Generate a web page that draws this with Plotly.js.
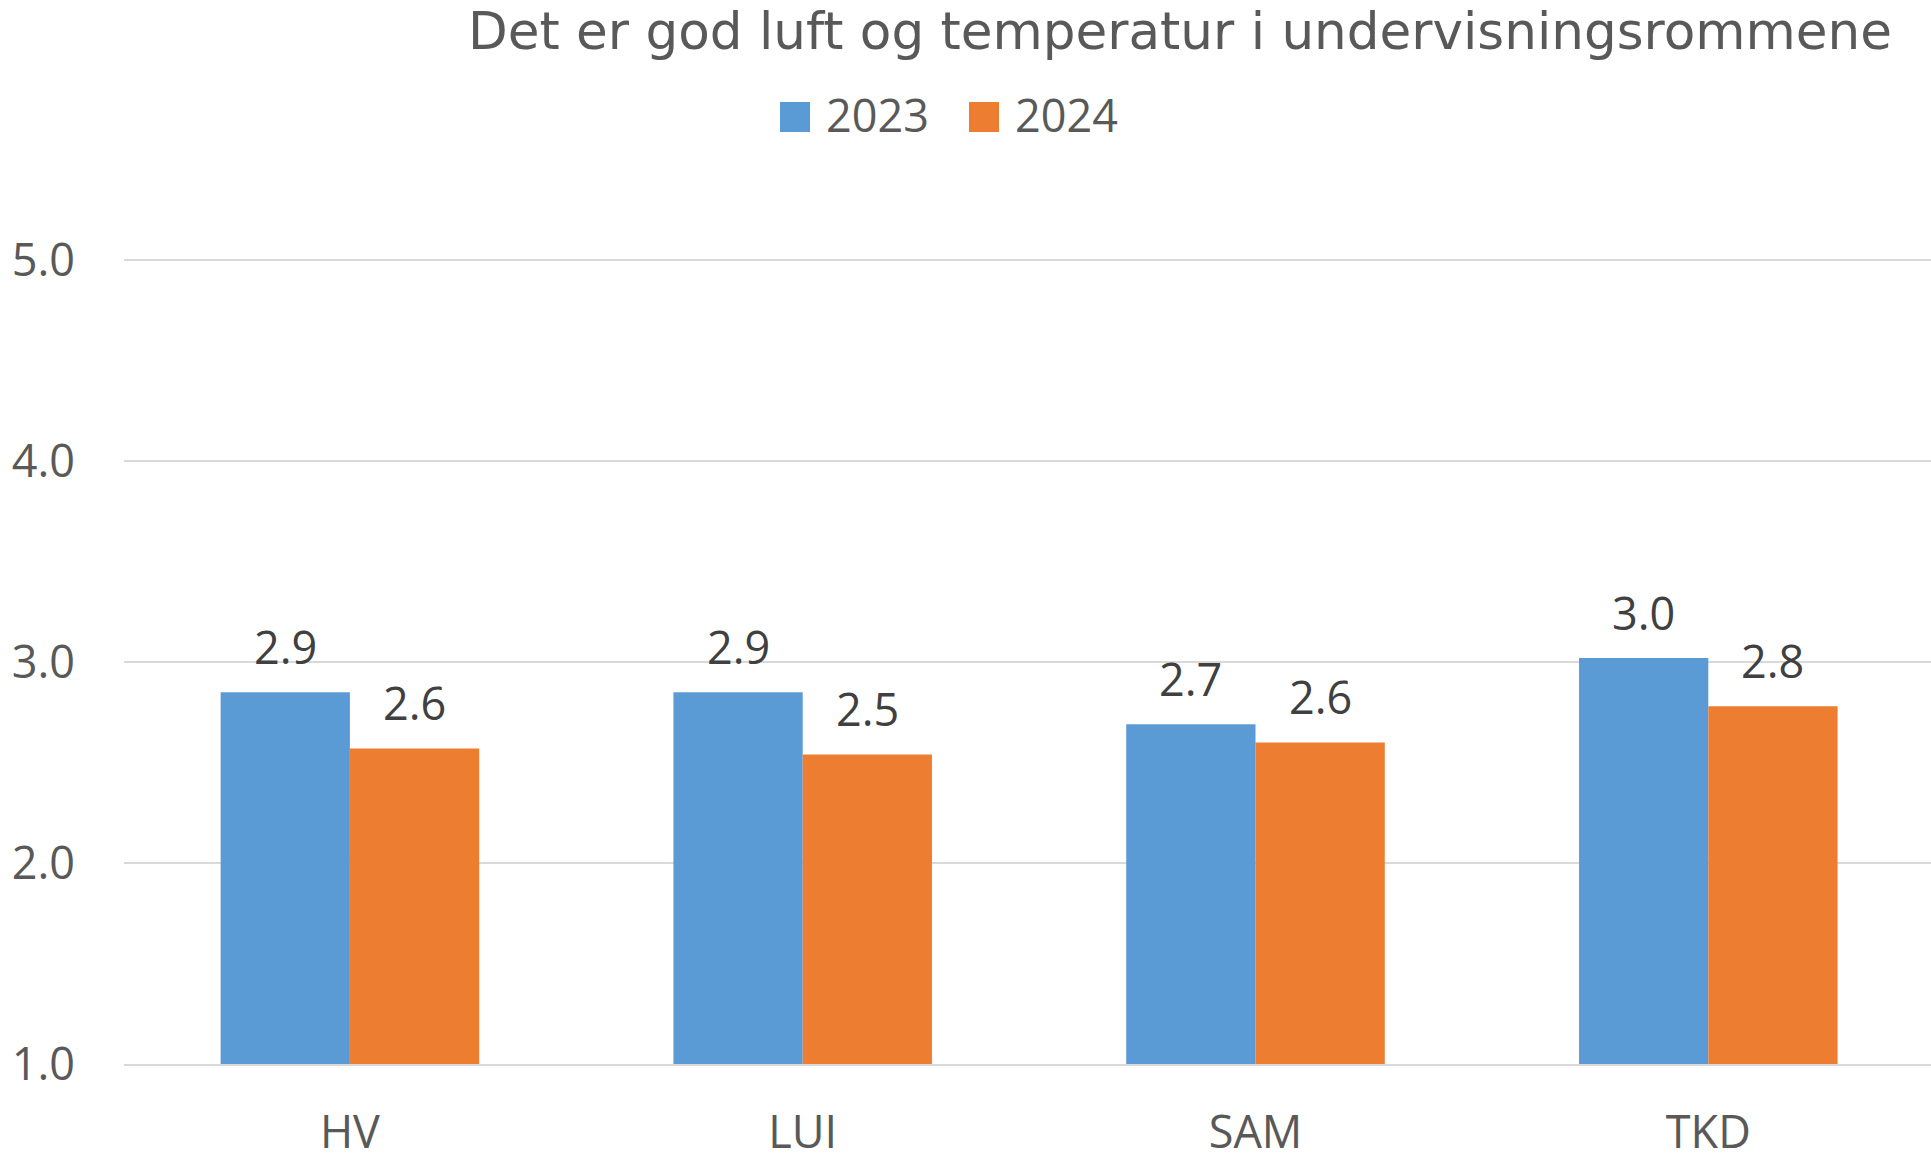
<!DOCTYPE html>
<html>
<head>
<meta charset="utf-8">
<script src="https://cdn.plot.ly/plotly-3.0.1.min.js"></script>
<style>
html,body{margin:0;padding:0;background:#fff;}
#chart{width:1931px;height:1168px;}
</style>
</head>
<body>
<div id="chart"></div>
<script>
const categories = ["HV", "LUI", "SAM", "TKD"];
const seriesNames = ["2023", "2024"];
const values2023 = [2.85, 2.85, 2.69, 3.02];
const values2024 = [2.57, 2.54, 2.60, 2.78];
const yTickVals = [1, 2, 3, 4, 5];
const yTickText = ["1.0", "2.0", "3.0", "4.0", "5.0"];
const titleText = "Det er god luft og temperatur i undervisningsrommene";

const colors = ["#5B9BD5", "#ED7D31"];
const FONT = "Open Sans, sans-serif";
const series = [values2023, values2024];
const BARGAP = 0.429;
const barW = (1 - BARGAP) / series.length;

const traces = series.map((vals, i) => ({
  type: "bar",
  name: seriesNames[i],
  x: categories,
  y: vals.map(v => v - 1),
  base: 1,
  marker: {color: colors[i]},
  showlegend: false,
  hoverinfo: "x+y"
}));

// Value labels above bars (anchored at data coordinates)
const labelAnns = [];
series.forEach((vals, i) => {
  const off = (i - (series.length - 1) / 2) * barW;
  vals.forEach((v, j) => {
    labelAnns.push({
      xref: "x", yref: "y",
      x: j + off, y: v,
      text: v.toFixed(1),
      showarrow: false, xanchor: "center", yanchor: "bottom",
      yshift: 13,
      font: {family: FONT, size: 45, color: "#404040"}
    });
  });
});

// Legend drawn as shapes + annotations (paper coords of plot area 124..1931 x 256..1064)
const PL = 124, PW = 1807, PB = 1064, PH = 808;
const legX = [780, 969];
const shapes = seriesNames.map((n, i) => ({
  type: "rect", xref: "paper", yref: "paper",
  x0: (legX[i] - PL) / PW, x1: (legX[i] + 30 - PL) / PW,
  y0: (PB - 132) / PH, y1: (PB - 102) / PH,
  fillcolor: colors[i], line: {width: 0}
}));
const legAnns = seriesNames.map((n, i) => ({
  text: n, xref: "paper", yref: "paper",
  x: (legX[i] + 44 - PL) / PW, y: (PB - 114) / PH,
  xanchor: "left", yanchor: "middle", showarrow: false,
  font: {family: FONT, size: 45, color: "#595959"}
}));

const layout = {
  width: 1931, height: 1168,
  margin: {l: PL, r: 0, t: 1168 - 104 - PH, b: 104, pad: 0},
  paper_bgcolor: "#fff", plot_bgcolor: "#fff",
  title: {
    text: titleText,
    font: {family: "DejaVu Sans, sans-serif", size: 51.6, color: "#595959"},
    x: 1180 / 1931, xanchor: "center", xref: "container",
    y: 1 - 31 / 1168, yanchor: "middle", yref: "container"
  },
  barmode: "group",
  bargap: BARGAP,
  bargroupgap: 0,
  showlegend: false,
  xaxis: {
    type: "category",
    range: [-0.4989, 3.4918],
    tickfont: {family: FONT, size: 45, color: "#595959"},
    showgrid: false, showline: true, linecolor: "#D9D9D9", linewidth: 2,
    ticks: "", ticklabelstandoff: 28
  },
  yaxis: {
    range: [1, 1 + PH / 201],
    tickvals: yTickVals, ticktext: yTickText,
    tickfont: {family: FONT, size: 45, color: "#595959"},
    showgrid: true, gridcolor: "#D9D9D9", gridwidth: 2,
    zeroline: false, showline: false, ticks: "",
    ticklabelstandoff: 48
  },
  shapes: shapes,
  annotations: labelAnns.concat(legAnns)
};

Plotly.newPlot("chart", traces, layout, {displayModeBar: false, staticPlot: true});
</script>
</body>
</html>
